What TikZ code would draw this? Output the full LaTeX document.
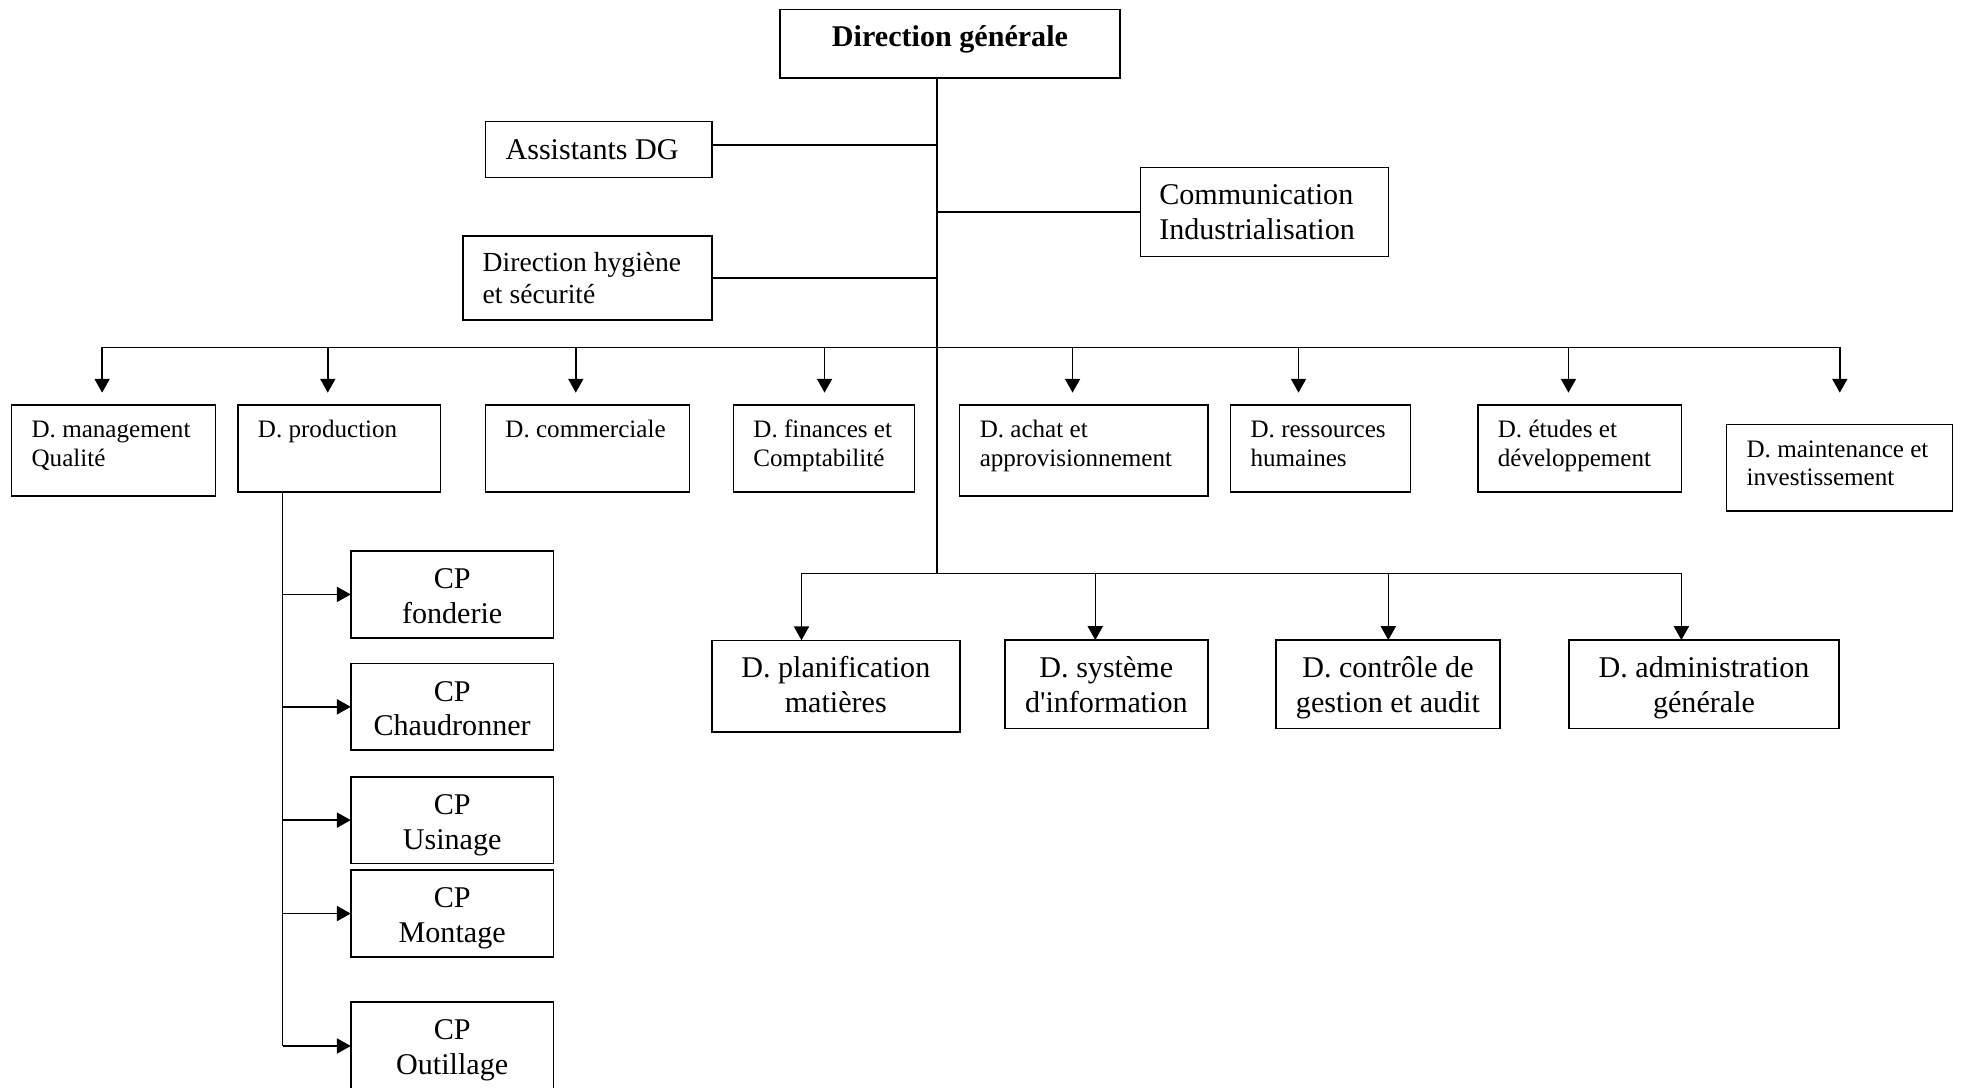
\documentclass[tikz,border=0pt]{standalone}
\usepackage{fontspec}
\setmainfont{Liberation Serif}
\usetikzlibrary{arrows.meta}

\newcommand{\bigfont}{\fontsize{12}{13.8}\selectfont}
\newcommand{\midfont}{\fontsize{11}{12.6}\selectfont}
\newcommand{\smallfont}{\fontsize{10}{11.5}\selectfont}

\tikzset{
  orgbox/.style={draw, line width=0.6pt, inner sep=0pt, outer sep=0pt},
  link/.style={line width=0.6pt},
  linkarrow/.style={link, -{Triangle[length=5.5pt,width=6pt]}},
}

% box given by its corners, text centred, first line set from the top
\newcommand{\cbox}[6]{%
  \node[orgbox, minimum width={(#4-#2)*0.5pt}, minimum height={(#5-#3)*0.5pt}]
        (#1) at ({(#2+#4)/2},{(#3+#5)/2})
        {\parbox[c][\dimexpr(#5pt-#3pt)/2-10.7pt\relax][t]{\dimexpr(#4pt-#2pt)/2-4pt\relax}%
          {\bigfont\centering\strut #6}};}

% box given by its corners, text flush left and vertically centred
% (#6 = total horizontal padding in pt, #7 = font)
\newcommand{\lbox}[8]{%
  \node[orgbox, minimum width={(#4-#2)*0.5pt}, minimum height={(#5-#3)*0.5pt}]
        (#1) at ({(#2+#4)/2},{(#3+#5)/2})
        {\parbox{\dimexpr(#4pt-#2pt)/2-#6pt\relax}{#7\raggedright #8}};}

% department box: small text set from the top left corner
\newcommand{\tbox}[6]{%
  \node[orgbox, minimum width={(#4-#2)*0.5pt}, minimum height={(#5-#3)*0.5pt}]
        (#1) at ({(#2+#4)/2},{(#3+#5)/2})
        {\parbox[c][\dimexpr(#5pt-#3pt)/2-10pt\relax][t]{\dimexpr(#4pt-#2pt)/2-16pt\relax}%
          {\smallfont\raggedright\strut #6}};}

\begin{document}
\begin{tikzpicture}[x=0.5pt, y=-0.5pt]
\useasboundingbox (0,0) rectangle (1568,867);

% general management
\node[orgbox, font=\bfseries\bigfont,
      minimum width={(892.8-621.8)*0.5pt}, minimum height={(62-7.4)*0.5pt},
      text height=8pt, text depth=5.5pt]
      (dg) at ({(621.8+892.8)/2},{(7.4+62)/2}) {Direction générale};

% staff functions
\lbox{assist}{387}{97}{567.5}{141.6}{16}{\bigfont}{Assistants DG}
\lbox{comm}{909.1}{133.4}{1106.8}{204.6}{15}{\bigfont}{Communication\\Industrialisation}
\lbox{hyg}{369}{188}{567.5}{255}{15.8}{\midfont}{Direction hygiène\\et sécurité}

% first row of departments
\tbox{mgmt}{9.2}{323}{171.8}{395.4}{D. management\\Qualité}
\tbox{prod}{189.6}{323}{351.3}{392}{D. production}
\tbox{comml}{386.9}{323}{549.5}{392}{D. commerciale}
\tbox{fin}{584.6}{323}{729}{392}{D. finances et\\Comptabilité}
\tbox{achat}{765}{323}{962.8}{395.4}{D. achat et\\approvisionnement}
\tbox{rh}{980.9}{323}{1124.4}{392}{D. ressources\\humaines}
\tbox{etudes}{1178}{323}{1340.2}{392}{D. études et\\développement}
\tbox{maint}{1376.3}{338.2}{1556.4}{407.3}{D. maintenance et\\investissement}

% second row of departments
\cbox{planif}{567.4}{510.4}{765.1}{583.5}{D. planification\\matières}
\cbox{sysinfo}{801.1}{510.2}{962.8}{580.6}{D. système\\d\textquotesingle information}
\cbox{ctrl}{1017.1}{510.2}{1195.7}{580.6}{D. contrôle de\\gestion et audit}
\cbox{admin}{1250.7}{510.2}{1466}{580.6}{D. administration\\générale}

% production centres
\cbox{fond}{279.6}{439.1}{441.3}{508.6}{CP\\fonderie}
\cbox{chaud}{279.6}{528.9}{441.3}{598}{CP\\Chaudronner}
\cbox{usin}{279.6}{619.3}{441.3}{688.2}{CP\\Usinage}
\cbox{mont}{279.6}{693.7}{441.3}{762.8}{CP\\Montage}
\cbox{outil}{279.6}{798.6}{441.3}{869}{CP\\Outillage}

% main trunk and staff links
\coordinate (hub) at (747,457);
\draw[link] (hub |- dg.south) -- (hub);
\draw[link] ([yshift=1.8pt]assist.east) -- ([yshift=1.8pt]assist.east -| hub);
\draw[link] (comm.west -| hub) -- (comm.west);
\draw[link] (hyg.east) -- (hyg.east -| hub);

% upper distribution bus
\foreach \n/\x in {1/81.4, 2/261.3, 3/459, 4/657.3, 5/855, 6/1035.1, 7/1250.3, 8/1466.6}
  \coordinate (u\n) at (\x,277);
\draw[link] (u1) -- (u8);
\draw[linkarrow, shorten >=5pt] (u1) -- (u1 |- mgmt.north);
\draw[linkarrow, shorten >=5pt] (u2) -- (u2 |- prod.north);
\draw[linkarrow, shorten >=5pt] (u3) -- (u3 |- comml.north);
\draw[linkarrow, shorten >=5pt] (u4) -- (u4 |- fin.north);
\draw[linkarrow, shorten >=5pt] (u5) -- (u5 |- achat.north);
\draw[linkarrow, shorten >=5pt] (u6) -- (u6 |- rh.north);
\draw[linkarrow, shorten >=5pt] (u7) -- (u7 |- etudes.north);
\draw[linkarrow, shorten >=12.6pt] (u8) -- (u8 |- maint.north);

% lower distribution bus
\foreach \n/\x in {1/638.9, 2/873.1, 3/1106.7, 4/1340.3}
  \coordinate (l\n) at (\x,457);
\draw[link] (l1) -- (l4);
\draw[linkarrow] (l1) -- (l1 |- planif.north);
\draw[linkarrow] (l2) -- (l2 |- sysinfo.north);
\draw[linkarrow] (l3) -- (l3 |- ctrl.north);
\draw[linkarrow] (l4) -- (l4 |- admin.north);

% production branch
\coordinate (pv) at (225.2,0);
\draw[link] (pv |- prod.south) -- (pv |- outil.west);
\foreach \b in {fond, chaud, usin, mont, outil}
  \draw[linkarrow] (pv |- \b.west) -- (\b.west);
\end{tikzpicture}
\end{document}
